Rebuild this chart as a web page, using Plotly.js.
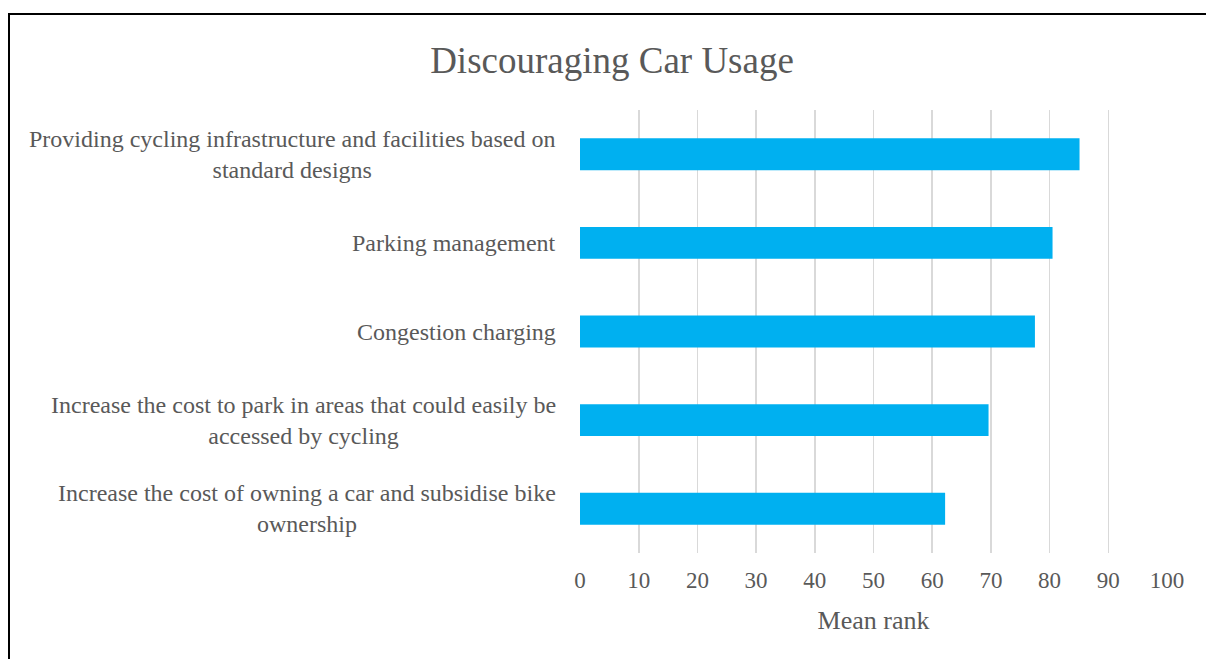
<!DOCTYPE html>
<html>
<head>
<meta charset="utf-8">
<script src="https://cdn.plot.ly/plotly-3.0.1.min.js"></script>
<style>
  html, body { margin: 0; padding: 0; background: #ffffff; }
  #wrap { position: relative; width: 1206px; height: 659px; overflow: hidden; }
  #chart { position: absolute; left: 0; top: 0; width: 1206px; height: 659px; }
  #frame { position: absolute; left: 8px; top: 13px; width: 1300px; height: 800px;
           border-left: 2px solid #000; border-top: 2px solid #000; pointer-events: none; }
</style>
</head>
<body>
<div id="wrap">
  <div id="chart"></div>
  <div id="frame"></div>
</div>
<script>
// Data (top-to-bottom order as in the reference)
const categories = [
  "Providing cycling infrastructure and facilities based on<br>standard designs",
  "Parking management",
  "Congestion charging",
  "Increase the cost to park in areas that could easily be<br>accessed by cycling",
  "Increase the cost of owning a car and subsidise bike<br>ownership"
];
const meanRank = [85.1, 80.5, 77.5, 69.6, 62.2];
const xTickValues = [0, 10, 20, 30, 40, 50, 60, 70, 80, 90, 100];

const chartTitle = "Discouraging Car Usage";
const xTitle = "Mean rank";

const FONT = "'Liberation Serif', 'Times New Roman', serif";
const GREY = "#595959";

const trace = {
  type: "bar",
  orientation: "h",
  x: meanRank,
  y: categories,
  marker: { color: "#00b0f0", line: { width: 0 } },
  hoverinfo: "x+y"
};

const annotations = categories.map(c => ({
  xref: "paper", yref: "y",
  x: 0, y: c,
  xanchor: "right", yanchor: "middle",
  xshift: -22,
  align: "center",
  showarrow: false,
  text: c,
  font: { family: FONT, size: 24, color: GREY }
}));

const layout = {
  width: 1206, height: 659,
  margin: { l: 580, r: 39, t: 110, b: 106, pad: 0 },
  paper_bgcolor: "#ffffff",
  plot_bgcolor: "#ffffff",
  showlegend: false,
  bargap: 0.64,
  font: { family: FONT, color: GREY },
  title: {
    text: chartTitle,
    font: { family: FONT, size: 37, color: GREY },
    x: 612 / 1206, xref: "container", xanchor: "center",
    y: 1 - 60 / 659, yref: "container", yanchor: "middle"
  },
  xaxis: {
    range: [0, 100],
    tickvals: xTickValues,
    ticktext: xTickValues.map(String),
    showgrid: true,
    gridcolor: "#d9d9d9",
    gridwidth: 1.6,
    zeroline: false,
    showline: false,
    ticks: "",
    ticklabelstandoff: 11,
    tickfont: { family: FONT, size: 23, color: GREY },
    title: { text: xTitle, font: { family: FONT, size: 26, color: GREY }, standoff: 18 },
    fixedrange: true
  },
  yaxis: {
    type: "category",
    autorange: "reversed",
    showticklabels: false,
    showgrid: false,
    zeroline: false,
    showline: false,
    ticks: "",
    fixedrange: true
  },
  annotations: annotations
};

Plotly.newPlot("chart", [trace], layout, { displayModeBar: false, staticPlot: true });
</script>
</body>
</html>
